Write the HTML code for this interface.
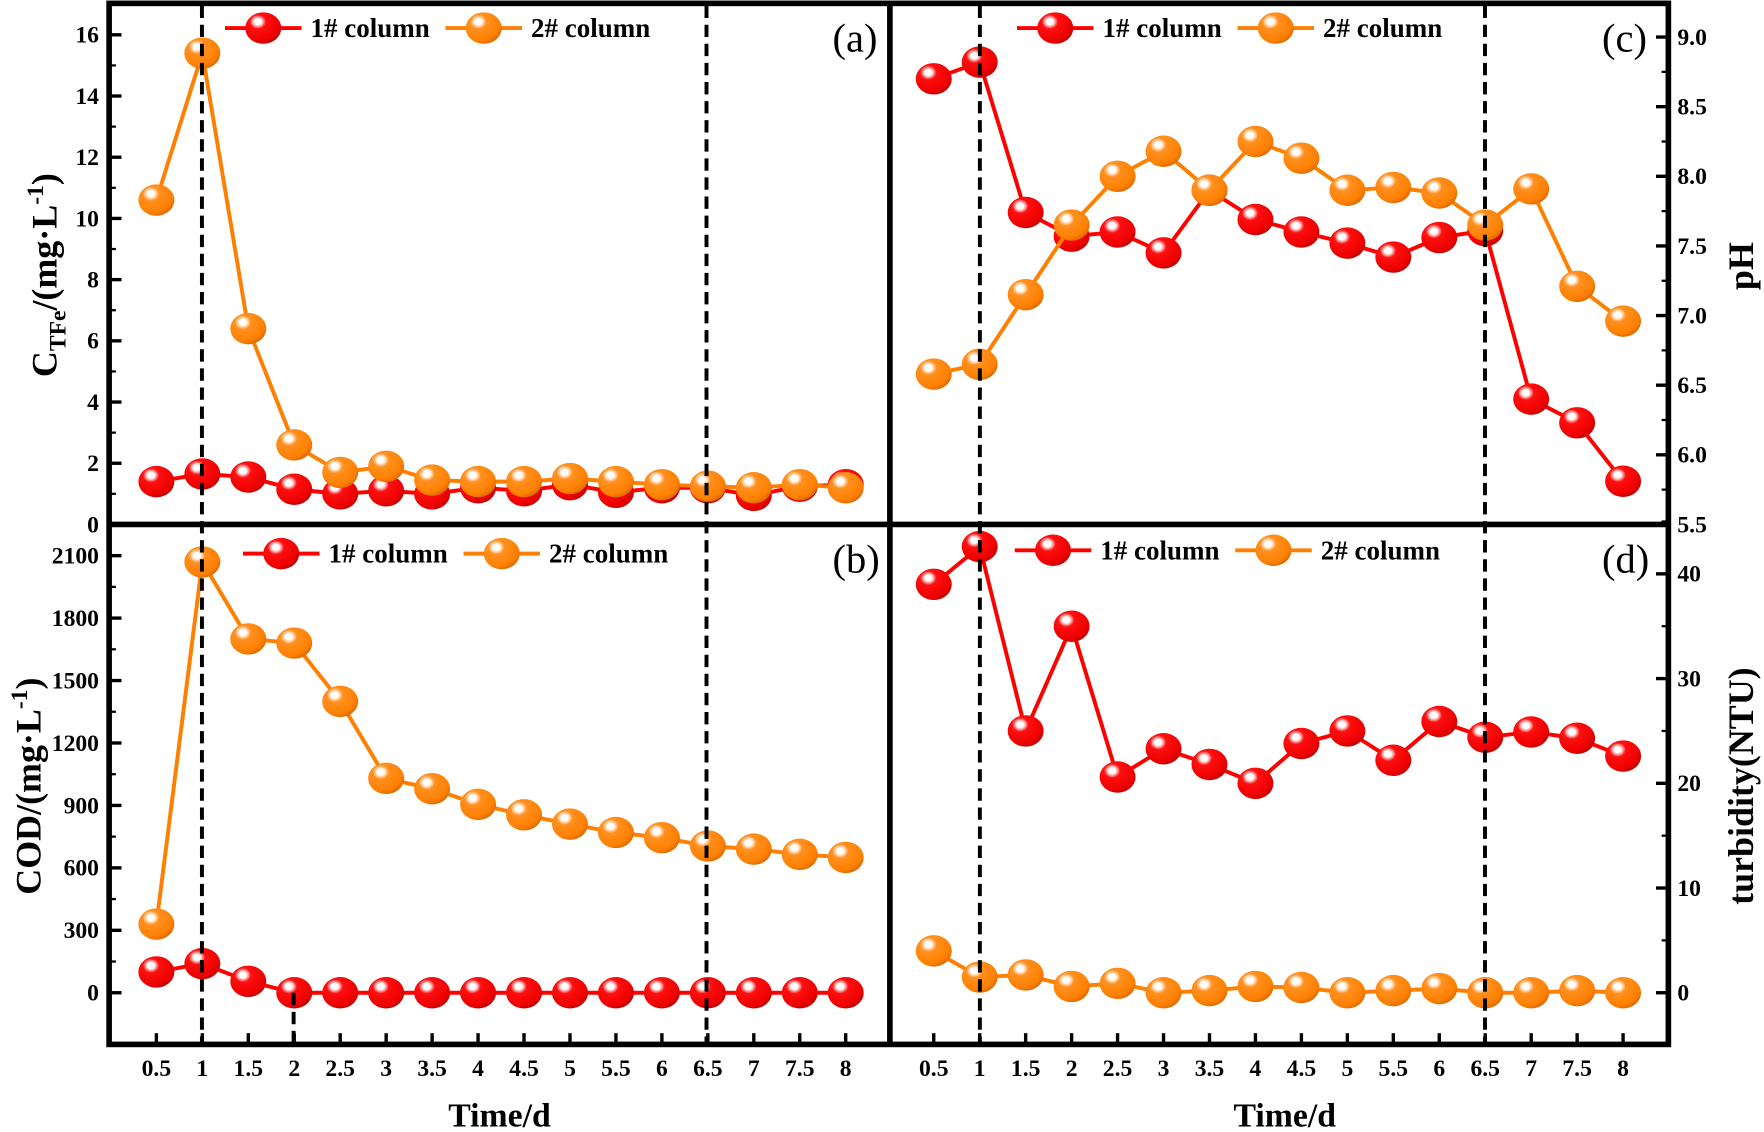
<!DOCTYPE html>
<html><head><meta charset="utf-8"><style>
html,body{margin:0;padding:0;background:#fff;}
svg{display:block;font-family:"Liberation Serif","Times New Roman",serif}
svg text{font-family:"Liberation Serif","Times New Roman",serif;font-weight:bold;fill:#000}
</style></head><body>
<svg id="s" width="1764" height="1132" viewBox="0 0 1568 1008" preserveAspectRatio="none" xmlns="http://www.w3.org/2000/svg" font-family="Liberation Serif, serif" font-weight="bold">
<defs>
<radialGradient id="gr" cx="0.35" cy="0.3" r="0.75">
<stop offset="0" stop-color="#fff"/><stop offset="0.12" stop-color="#fff"/><stop offset="0.2" stop-color="#f7a0a0"/><stop offset="0.3" stop-color="#ff1010"/><stop offset="0.8" stop-color="#ee0000"/><stop offset="1" stop-color="#c00000"/>
</radialGradient>
<radialGradient id="go" cx="0.35" cy="0.3" r="0.75">
<stop offset="0" stop-color="#fff"/><stop offset="0.12" stop-color="#fff"/><stop offset="0.2" stop-color="#ffd0a0"/><stop offset="0.3" stop-color="#ff9020"/><stop offset="0.8" stop-color="#ff8000"/><stop offset="1" stop-color="#d86a00"/>
</radialGradient>
</defs>
<g id="g"></g>
</svg>
<script>
const g=document.getElementById('g');let h='';
const F='font-family="Liberation Serif, serif" font-weight="bold"';
const X=(t,x0)=>x0+(t-0.5)/0.5*40.85;
const ts=[];for(let i=0;i<16;i++)ts.push(0.5+i*0.5);
function series(data,x0,ymap,col,grad){
 let pts=data.map((v,i)=>[X(ts[i],x0),ymap(v)]);
 h+=`<polyline points="${pts.map(p=>p.join(',')).join(' ')}" fill="none" stroke="${col}" stroke-width="3.5"/>`;
 pts.forEach(p=>h+=`<ellipse cx="${p[0]}" cy="${p[1]}" rx="16" ry="14" fill="url(#${grad})"/>`);
}
function legend(x,y){
 h+=`<line x1="${x}" y1="${y}" x2="${x+68}" y2="${y}" stroke="#f00" stroke-width="3.5"/><ellipse cx="${x+34}" cy="${y}" rx="16" ry="14" fill="url(#gr)"/>`;
 h+=`<text ${F} x="${x+76}" y="${y+8}" font-size="24">1# column</text>`;
 h+=`<line x1="${x+196}" y1="${y}" x2="${x+264}" y2="${y}" stroke="#ff8000" stroke-width="3.5"/><ellipse cx="${x+230}" cy="${y}" rx="16" ry="14" fill="url(#go)"/>`;
 h+=`<text ${F} x="${x+272}" y="${y+8}" font-size="24">2# column</text>`;
}
function dash(x,y1,y2){h+=`<line x1="${x}" y1="${y1}" x2="${x}" y2="${y2}" stroke="#000" stroke-width="3.5" stroke-dasharray="11,6"/>`;}
const ya=v=>467-v*27.25;
series([1.4,1.65,1.55,1.15,1.0,1.1,1.0,1.2,1.1,1.3,1.05,1.2,1.2,0.95,1.25,1.3],139,ya,'#f00','gr');
series([10.6,15.4,6.4,2.6,1.7,1.9,1.45,1.4,1.4,1.5,1.4,1.3,1.25,1.2,1.3,1.2],139,ya,'#ff8000','go');
const yb=v=>884-v/300*55.6;
series([330,2070,1700,1680,1400,1030,980,905,855,810,770,745,705,690,665,650],139,yb,'#ff8000','go');
series([100,140,55,0,0,0,0,0,0,0,0,0,0,0,0,0],139,yb,'#f00','gr');
const yc=v=>467-(v-5.5)/0.5*62;
series([8.7,8.82,7.74,7.57,7.6,7.45,7.9,7.69,7.6,7.52,7.42,7.56,7.61,6.4,6.23,5.81],830,yc,'#f00','gr');
series([6.58,6.65,7.15,7.65,8.0,8.18,7.9,8.25,8.13,7.9,7.92,7.88,7.65,7.91,7.21,6.96],830,yc,'#ff8000','go');
const yd=v=>884-v/10*93.25;
series([39,42.6,25,35,20.6,23.3,21.8,20,23.8,25,22.2,25.9,24.4,24.9,24.3,22.6],830,yd,'#f00','gr');
series([4,1.5,1.7,0.6,0.9,0,0.2,0.6,0.5,0,0.2,0.4,0,0,0.2,0],830,yd,'#ff8000','go');
dash(179.5,5,930);dash(628,5,930);dash(871,5,930);dash(1320,5,930);dash(261,884,930);
legend(200,25);legend(216,493);legend(904,25);legend(902,490);
h+=`<rect x="97" y="3" width="1386" height="927" fill="none" stroke="#000" stroke-width="5"/>`;
h+=`<line x1="791" y1="3" x2="791" y2="930" stroke="#000" stroke-width="5"/>`;
h+=`<line x1="97" y1="467" x2="1483" y2="467" stroke="#000" stroke-width="5"/>`;
const P='font-family="Liberation Serif, serif" font-weight="normal"';
h+=`<text ${P} x="740" y="46" font-size="36" style="font-weight:normal">(a)</text>`;
h+=`<text ${P} x="740" y="510" font-size="36" style="font-weight:normal">(b)</text>`;
h+=`<text ${P} x="1424" y="46" font-size="36" style="font-weight:normal">(c)</text>`;
h+=`<text ${P} x="1424" y="510" font-size="36" style="font-weight:normal">(d)</text>`;
for(let v=0;v<=16;v+=2){let y=ya(v);h+=`<line x1="97" y1="${y}" x2="108" y2="${y}" stroke="#000" stroke-width="3"/><text ${F} x="88" y="${y+7}" font-size="21" text-anchor="end">${v}</text>`;
 if(v<16){let y2=ya(v+1);h+=`<line x1="97" y1="${y2}" x2="103" y2="${y2}" stroke="#000" stroke-width="2"/>`;}}
for(let v=0;v<=2100;v+=300){let y=yb(v);h+=`<line x1="97" y1="${y}" x2="108" y2="${y}" stroke="#000" stroke-width="3"/><text ${F} x="88" y="${y+7}" font-size="21" text-anchor="end">${v}</text>`;
 let y2=yb(v+150);h+=`<line x1="97" y1="${y2}" x2="103" y2="${y2}" stroke="#000" stroke-width="2"/>`;}
for(let k=0;k<=7;k++){let v=5.5+k*0.5;let y=yc(v);h+=`<line x1="1472" y1="${y}" x2="1483" y2="${y}" stroke="#000" stroke-width="3"/><text ${F} x="1491" y="${y+7}" font-size="21">${v.toFixed(1)}</text>`;
 if(k<7){let y2=yc(v+0.25);h+=`<line x1="1477" y1="${y2}" x2="1483" y2="${y2}" stroke="#000" stroke-width="2"/>`;}}
for(let v=0;v<=40;v+=10){let y=yd(v);h+=`<line x1="1472" y1="${y}" x2="1483" y2="${y}" stroke="#000" stroke-width="3"/><text ${F} x="1491" y="${y+7}" font-size="21">${v}</text>`;}
for(let v=-5;v<=45;v+=10){let y=yd(v);h+=`<line x1="1477" y1="${y}" x2="1483" y2="${y}" stroke="#000" stroke-width="2"/>`;}
[139,830].forEach(x0=>{ts.forEach(t=>{let x=X(t,x0);h+=`<line x1="${x}" y1="930" x2="${x}" y2="920" stroke="#000" stroke-width="3"/><text ${F} x="${x}" y="958" font-size="21" text-anchor="middle">${t}</text>`;});});
h+=`<text ${F} x="444" y="1003" font-size="30" text-anchor="middle">Time/d</text>`;
h+=`<text ${F} x="1142" y="1003" font-size="30" text-anchor="middle">Time/d</text>`;
h+=`<text ${F} transform="translate(50,245) rotate(-90)" font-size="32" text-anchor="middle">C<tspan font-size="21" dy="8">TFe</tspan><tspan dy="-8">/(mg·L</tspan><tspan font-size="21" dy="-12">-1</tspan><tspan dy="12">)</tspan></text>`;
h+=`<text ${F} transform="translate(36,700) rotate(-90)" font-size="32" text-anchor="middle">COD/(mg·L<tspan font-size="21" dy="-12">-1</tspan><tspan dy="12">)</tspan></text>`;
h+=`<text ${F} transform="translate(1558,237) rotate(-90)" font-size="32" text-anchor="middle">pH</text>`;
h+=`<text ${F} transform="translate(1558,700) rotate(-90)" font-size="32" text-anchor="middle">turbidity(NTU)</text>`;
g.innerHTML=h;
</script>
</body></html>
